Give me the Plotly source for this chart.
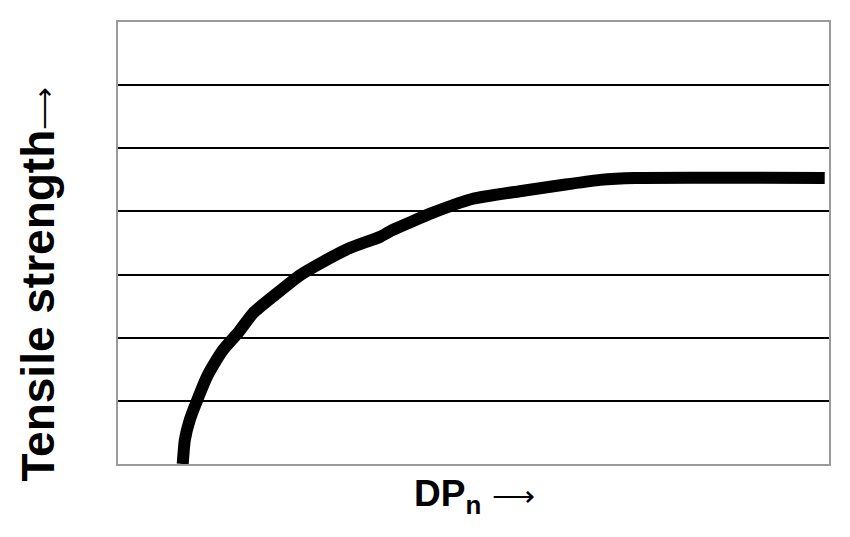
import plotly.graph_objects as go

# curve (arbitrary units, x 0-10, y 0-7)
dp_n = [0.91, 0.94, 1.01, 1.11, 1.25, 1.36, 1.48, 1.69, 1.90, 2.21, 2.56, 2.88,
        3.26, 3.69, 3.85, 4.43, 4.99, 5.65, 6.32, 6.78, 7.27, 9.94]
tensile = [0.0, 0.38, 0.70, 1.00, 1.38, 1.60, 1.81, 2.08, 2.39, 2.68, 2.99, 3.20,
           3.42, 3.60, 3.70, 3.98, 4.20, 4.32, 4.43, 4.50, 4.53, 4.53]

grid_vals = [1, 2, 3, 4, 5, 6]

FONT = "Liberation Sans, Arial, sans-serif"
ARROW = '<span style="font-size:30px">⟶</span>'

fig = go.Figure()

fig.add_trace(
    go.Scatter(
        x=dp_n,
        y=tensile,
        mode="lines",
        line=dict(color="black", width=12, shape="spline", smoothing=0.5),
        hoverinfo="skip",
    )
)

# page body has an 8px margin, so the figure is a bit smaller than the window
fig.update_layout(
    width=842,
    height=529,
    margin=dict(l=110, r=21, t=14, b=73),
    plot_bgcolor="white",
    paper_bgcolor="white",
    showlegend=False,
    xaxis=dict(
        range=[0, 10],
        showgrid=False,
        zeroline=False,
        showticklabels=False,
        ticks="",
        showline=True,
        mirror=True,
        linecolor="#9a9a9a",
        linewidth=2,
        fixedrange=True,
    ),
    yaxis=dict(
        range=[0, 7],
        tickmode="array",
        tickvals=grid_vals,
        showgrid=True,
        gridcolor="black",
        gridwidth=1.5,
        zeroline=True,
        zerolinecolor="#222222",
        zerolinewidth=2,
        showticklabels=False,
        ticks="",
        showline=True,
        mirror=True,
        linecolor="#9a9a9a",
        linewidth=2,
        fixedrange=True,
    ),
)

fig.add_annotation(
    text="<b>Tensile strength</b>" + ARROW,
    xref="paper",
    yref="paper",
    x=-0.152,
    y=0.408,
    textangle=-90,
    showarrow=False,
    font=dict(family=FONT, size=46, color="black"),
)

fig.add_annotation(
    text="<b>DP<sub>n</sub></b> " + ARROW,
    xref="paper",
    yref="paper",
    x=0.502,
    y=-0.13,
    showarrow=False,
    font=dict(family=FONT, size=37, color="black"),
)

fig.write_html("out.html")
